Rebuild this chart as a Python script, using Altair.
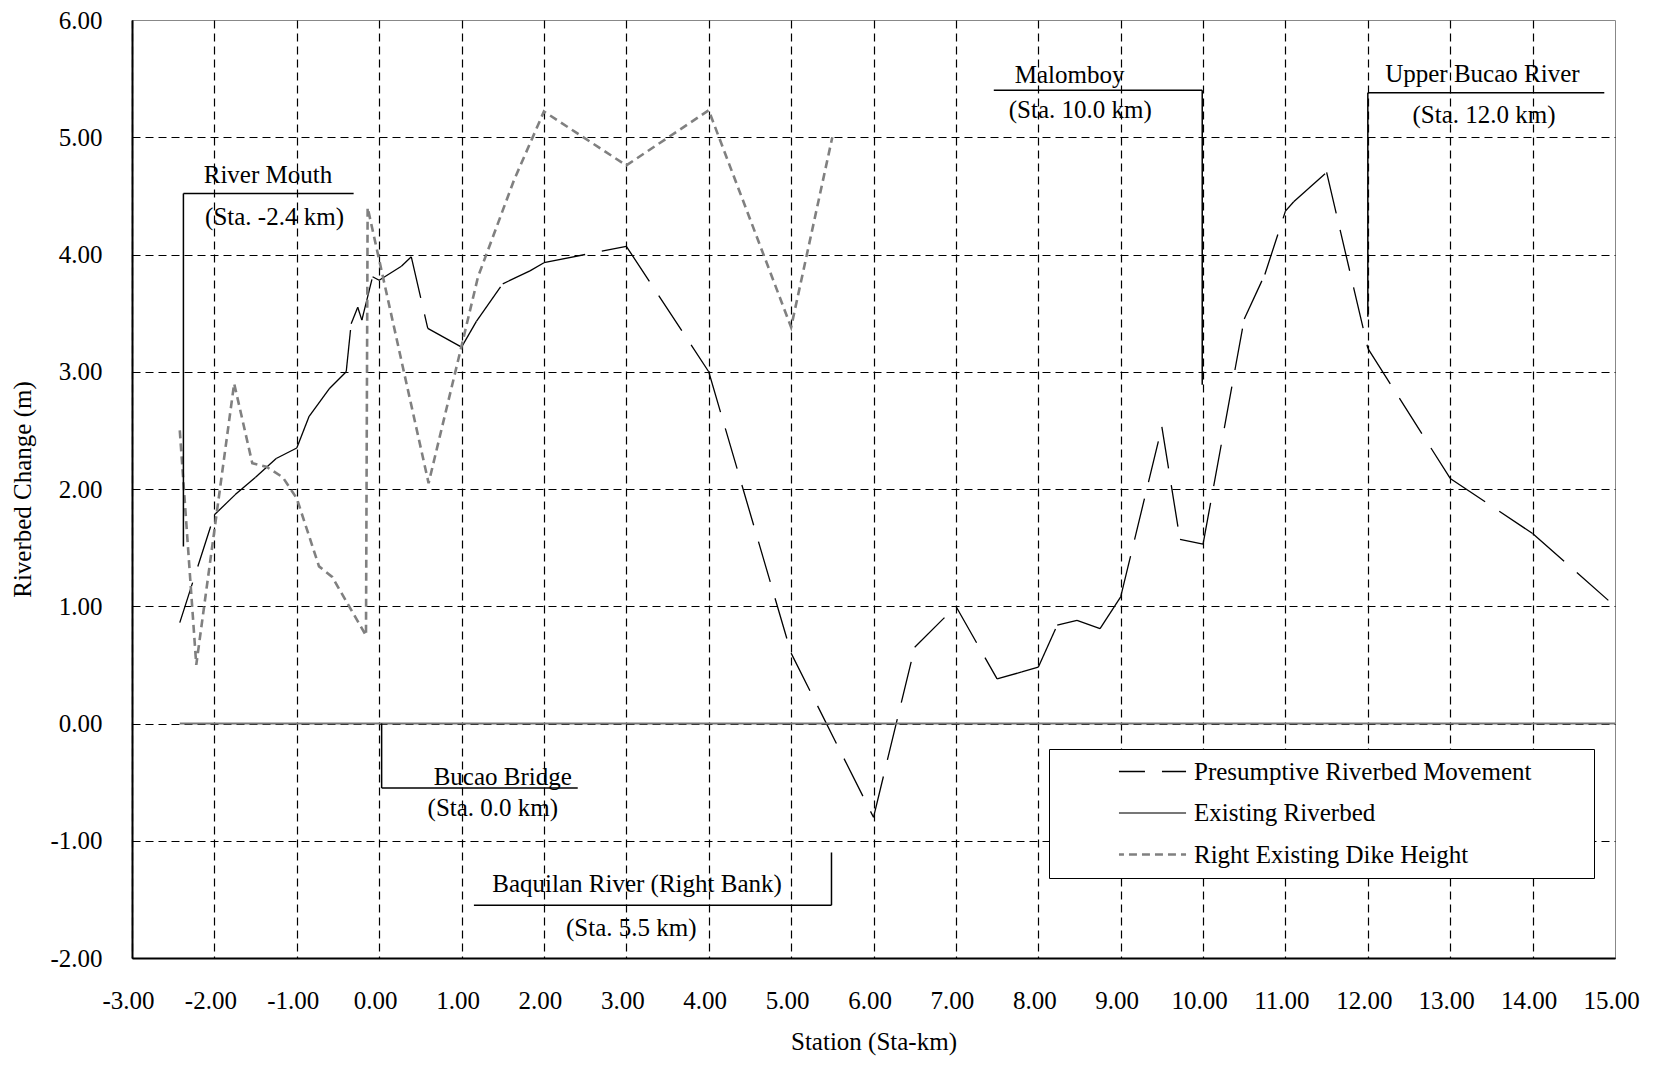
import altair as alt
import pandas as pd

# ---------------- data ----------------
SERIES = ["Presumptive Riverbed Movement", "Existing Riverbed", "Right Existing Dike Height"]

pres_x = [-2.42, -2.0, -1.75, -1.5, -1.25, -1.0, -0.85, -0.6, -0.4, -0.34, -0.26, -0.21,
          -0.08, 0.0, 0.27, 0.39, 0.59, 1.0, 1.18, 1.5, 1.83, 2.0, 3.0, 4.0, 5.0, 6.0,
          6.5, 7.0, 7.5, 7.8, 8.0, 8.23, 8.47, 8.75, 9.0, 9.5, 9.72, 10.0, 10.5, 10.75,
          11.0, 11.1, 11.5, 12.0, 13.0, 14.0, 15.0]
pres_y = [0.86, 1.78, 1.95, 2.1, 2.26, 2.35, 2.62, 2.86, 3.0, 3.41, 3.55, 3.44,
          3.81, 3.78, 3.9, 3.98, 3.37, 3.21, 3.43, 3.75, 3.86, 3.93, 4.07, 3.0, 0.6, -0.8,
          0.65, 1.0, 0.38, 0.44, 0.48, 0.84, 0.88, 0.81, 1.08, 2.53, 1.57, 1.53, 3.45, 3.83,
          4.37, 4.45, 4.7, 3.2, 2.09, 1.62, 1.0]

bed_x = [-2.42, 15.0]
bed_y = [0.0, 0.0]

dike_x = [-2.42, -2.22, -1.76, -1.54, -1.37, -1.17, -1.0, -0.73, -0.57, -0.16, -0.14,
          0.3, 0.6, 1.0, 1.2, 1.64, 2.0, 3.0, 4.0, 5.0, 5.5]
dike_y = [2.5, 0.5, 2.9, 2.22, 2.19, 2.1, 1.92, 1.34, 1.25, 0.75, 4.4,
          3.0, 2.05, 3.22, 3.81, 4.64, 5.22, 4.76, 5.23, 3.38, 5.0]

# annotation leader lines (station, change) -> (station2, change2)
ann_x1 = [-2.376, -2.376, 0.03, 0.03, 5.49, 1.15, 9.99, 7.46, 12.0, 12.0]
ann_y1 = [1.51, 4.52, 0.0, -0.55, -1.10, -1.55, 2.89, 5.40, 3.47, 5.38]
ann_x2 = [-2.376, -0.31, 0.03, 2.41, 5.49, 5.49, 9.99, 9.99, 12.0, 14.87]
ann_y2 = [4.52, 4.52, -0.55, -0.55, -1.55, -1.55, 5.40, 5.40, 5.38, 5.38]

ann_text = ["River Mouth", "(Sta. -2.4 km)", "Bucao Bridge", "(Sta. 0.0 km)",
            "Baquilan River (Right Bank)", "(Sta. 5.5 km)", "Malomboy", "(Sta. 10.0 km)",
            "Upper Bucao River", "(Sta. 12.0 km)"]
ann_tx = [-1.35, -1.27, 1.5, 1.38, 3.13, 3.06, 8.38, 8.51, 13.39, 13.41]
ann_ty = [4.607, 4.25, -0.523, -0.79, -1.44, -1.81, 5.46, 5.16, 5.47, 5.12]

x_ticks = list(range(-3, 16))
y_ticks = list(range(-2, 7))

# ---------------- tables ----------------
rows = []
for i in range(len(pres_x) - 1):
    for j in (i, i + 1):
        rows.append(dict(station=pres_x[j], change=pres_y[j], series=SERIES[0], seg=f"p{i}", idx=j))
for j, (x, y) in enumerate(zip(bed_x, bed_y)):
    rows.append(dict(station=x, change=y, series=SERIES[1], seg="bed", idx=j))
for j, (x, y) in enumerate(zip(dike_x, dike_y)):
    rows.append(dict(station=x, change=y, series=SERIES[2], seg="dike", idx=j))
df = pd.DataFrame(rows)

ann_df = pd.DataFrame(dict(station=ann_x1, change=ann_y1, station2=ann_x2, change2=ann_y2))
txt_df = pd.DataFrame(dict(station=ann_tx, change=ann_ty, label=ann_text))

FONT = "Liberation Serif"

legend = alt.Legend(
    title="\u2003", titleOrient="right", titlePadding=53, titleFontSize=1,
    orient="none", legendX=917, legendY=729, padding=10,
    symbolType="M-3,0H3", symbolSize=500, symbolOffset=81, labelOffset=29,
    symbolDashOffset=16,
    rowPadding=15.5, labelFont=FONT, labelFontSize=25, labelColor="black",
    labelLimit=800, strokeColor="black", fillColor="white",
)

x_axis = alt.Axis(
    values=x_ticks, format=".2f", title="Station (Sta-km)",
    labelFlush=False, labelOverlap=False, ticks=False, tickSize=0,
    labelPadding=50, labelBaseline="alphabetic", labelOffset=-4,
    labelExpr="replace(datum.label, '\u2212', '-')",
    titleBaseline="alphabetic", titleY=91,
    gridOpacity={"condition": {"test": "datum.value >= 15", "value": 0}, "value": 1},
)
y_axis = alt.Axis(
    values=y_ticks, format=".2f", title="Riverbed Change (m)",
    labelFlush=False, labelOverlap=False, ticks=False, tickSize=0,
    labelPadding=30,
    labelExpr="replace(datum.label, '\u2212', '-')",
    titleBaseline="alphabetic", titleX=-102, titleY=469,
    gridOpacity={"condition": {"test": "datum.value >= 6", "value": 0}, "value": 1},
)

lines = alt.Chart(df).mark_line(strokeCap="butt").encode(
    x=alt.X("station:Q", scale=alt.Scale(domain=[-3, 15], nice=False, zero=False), axis=x_axis),
    y=alt.Y("change:Q", scale=alt.Scale(domain=[-2, 6], nice=False, zero=False), axis=y_axis),
    color=alt.Color("series:N", scale=alt.Scale(domain=SERIES, range=["black", "#777777", "#808080"]), legend=legend),
    strokeDash=alt.StrokeDash("series:N", scale=alt.Scale(domain=SERIES, range=[[42, 17], [1, 0], [8, 5]]), legend=legend),
    strokeWidth=alt.StrokeWidth("series:N", scale=alt.Scale(domain=SERIES, range=[1.3, 2.6, 1.0]), legend=legend),
    detail="seg:N",
    order="idx:Q",
)

rules = alt.Chart(ann_df).mark_rule(color="black", strokeWidth=1.5).encode(
    x="station:Q", x2="station2:Q", y="change:Q", y2="change2:Q"
)

texts = alt.Chart(txt_df).mark_text(
    font=FONT, fontSize=25, align="center", baseline="alphabetic", color="black"
).encode(x="station:Q", y="change:Q", text="label:N")

chart = alt.layer(lines, rules, texts).properties(
    width=1483, height=938,
    autosize=alt.AutoSizeParams(type="none"),
    padding={"left": 124, "top": 12, "right": 30, "bottom": 98},
).configure_axis(
    labelFont=FONT, labelFontSize=25, labelColor="black",
    titleFont=FONT, titleFontSize=25, titleFontWeight="normal", titleColor="black",
    domainColor="black", domainWidth=2,
    grid=True, gridColor="black", gridDash=[8, 5], gridWidth=1.2,
).configure_view(stroke="#888888", strokeWidth=1)

chart.save("out.html", embed_options={"renderer": "svg", "actions": False})
